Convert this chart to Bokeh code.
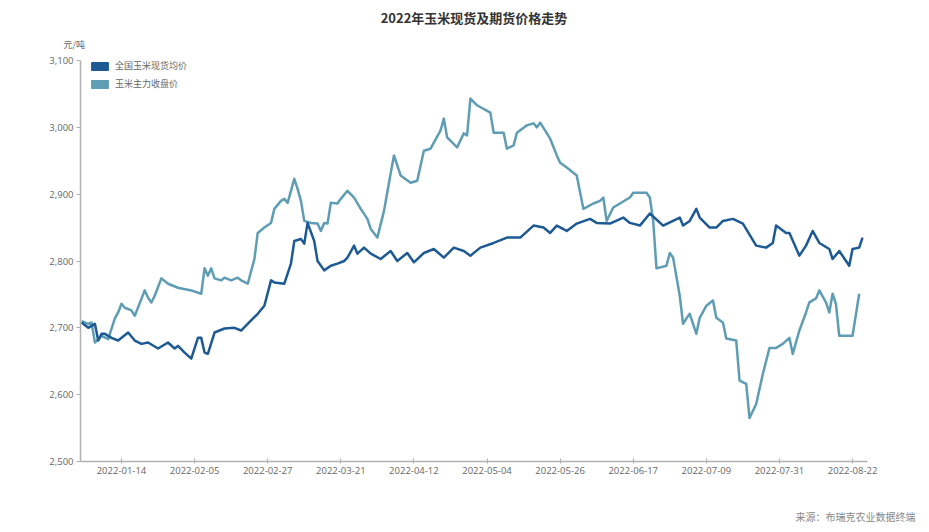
import pandas as pd
from bokeh.plotting import figure
from bokeh.models import (ColumnDataSource, Range1d, FixedTicker, DatetimeTickFormatter,
                          NumeralTickFormatter, Legend, LegendItem, Title)
from bokeh.embed import file_html
from bokeh.resources import INLINE

title_text = "2022年玉米现货及期货价格走势"
unit_text = "元/吨"
source_text = "来源：布瑞克农业数据终端"
spot_name = "全国玉米现货均价"
fut_name = "玉米主力收盘价"

spot_dates = ["2022-01-02", "2022-01-04", "2022-01-06", "2022-01-07", "2022-01-08", "2022-01-09",
              "2022-01-11", "2022-01-13", "2022-01-16", "2022-01-18", "2022-01-20", "2022-01-22",
              "2022-01-25", "2022-01-28", "2022-01-30", "2022-01-31", "2022-02-02", "2022-02-04",
              "2022-02-06", "2022-02-07", "2022-02-08", "2022-02-09", "2022-02-11", "2022-02-14",
              "2022-02-17", "2022-02-19", "2022-02-22", "2022-02-24", "2022-02-26", "2022-02-28",
              "2022-03-01", "2022-03-04", "2022-03-06", "2022-03-07", "2022-03-09", "2022-03-10",
              "2022-03-11", "2022-03-13", "2022-03-14", "2022-03-16", "2022-03-18", "2022-03-20",
              "2022-03-22", "2022-03-23", "2022-03-25", "2022-03-26", "2022-03-28", "2022-03-30",
              "2022-04-02", "2022-04-05", "2022-04-07", "2022-04-10", "2022-04-12", "2022-04-15",
              "2022-04-18", "2022-04-21", "2022-04-24", "2022-04-27", "2022-04-29", "2022-05-02",
              "2022-05-06", "2022-05-10", "2022-05-14", "2022-05-18", "2022-05-21", "2022-05-23",
              "2022-05-25", "2022-05-28", "2022-05-31", "2022-06-04", "2022-06-06", "2022-06-10",
              "2022-06-14", "2022-06-16", "2022-06-19", "2022-06-22", "2022-06-26", "2022-07-01",
              "2022-07-02", "2022-07-04", "2022-07-06", "2022-07-07", "2022-07-10", "2022-07-12",
              "2022-07-14", "2022-07-17", "2022-07-20", "2022-07-24", "2022-07-27", "2022-07-29",
              "2022-07-30", "2022-08-02", "2022-08-03", "2022-08-06", "2022-08-08", "2022-08-10",
              "2022-08-12", "2022-08-15", "2022-08-16", "2022-08-18", "2022-08-21", "2022-08-22",
              "2022-08-24", "2022-08-25"]
spot_values = [2708, 2700, 2706, 2681, 2691, 2691,
               2685, 2681, 2693, 2681, 2676, 2678,
               2669, 2678, 2669, 2673, 2663, 2654,
               2685, 2685, 2663, 2661, 2693, 2699,
               2700, 2696, 2711, 2721, 2733, 2771,
               2768, 2766, 2796, 2830, 2833, 2826,
               2857, 2830, 2800, 2786, 2793, 2796,
               2800, 2805, 2823, 2811, 2820, 2811,
               2803, 2815, 2800, 2812, 2798, 2812,
               2818, 2805, 2820, 2815, 2808, 2820,
               2827, 2835, 2835, 2853, 2850, 2842,
               2853, 2845, 2856, 2863, 2857, 2856,
               2865, 2857, 2853, 2871, 2853, 2865,
               2853, 2860, 2878, 2865, 2850, 2850,
               2860, 2863, 2856, 2823, 2820, 2827,
               2853, 2842, 2842, 2808, 2823, 2845,
               2827, 2818, 2803, 2815, 2793, 2818,
               2820, 2835]

fut_dates = ["2022-01-02", "2022-01-04", "2022-01-05", "2022-01-06", "2022-01-08", "2022-01-10",
             "2022-01-12", "2022-01-13", "2022-01-14", "2022-01-15", "2022-01-17", "2022-01-18",
             "2022-01-21", "2022-01-22", "2022-01-23", "2022-01-24", "2022-01-26", "2022-01-28",
             "2022-01-31", "2022-02-04", "2022-02-07", "2022-02-08", "2022-02-09", "2022-02-10",
             "2022-02-11", "2022-02-13", "2022-02-14", "2022-02-16", "2022-02-18", "2022-02-19",
             "2022-02-21", "2022-02-23", "2022-02-24", "2022-02-26", "2022-02-28", "2022-03-01",
             "2022-03-03", "2022-03-04", "2022-03-05", "2022-03-07", "2022-03-08", "2022-03-09",
             "2022-03-10", "2022-03-12", "2022-03-14", "2022-03-15", "2022-03-16", "2022-03-17",
             "2022-03-18", "2022-03-20", "2022-03-21", "2022-03-23", "2022-03-25", "2022-03-27",
             "2022-03-29", "2022-03-30", "2022-04-01", "2022-04-03", "2022-04-05", "2022-04-06",
             "2022-04-08", "2022-04-11", "2022-04-13", "2022-04-15", "2022-04-17", "2022-04-20",
             "2022-04-21", "2022-04-22", "2022-04-25", "2022-04-27", "2022-04-28", "2022-04-29",
             "2022-05-01", "2022-05-05", "2022-05-06", "2022-05-09", "2022-05-10", "2022-05-12",
             "2022-05-13", "2022-05-16", "2022-05-18", "2022-05-19", "2022-05-20", "2022-05-23",
             "2022-05-25", "2022-05-26", "2022-05-28", "2022-05-31", "2022-06-02", "2022-06-05",
             "2022-06-07", "2022-06-08", "2022-06-09", "2022-06-11", "2022-06-13", "2022-06-16",
             "2022-06-17", "2022-06-21", "2022-06-22", "2022-06-23", "2022-06-24", "2022-06-27",
             "2022-06-28", "2022-06-29", "2022-07-01", "2022-07-02", "2022-07-03", "2022-07-04",
             "2022-07-06", "2022-07-07", "2022-07-09", "2022-07-11", "2022-07-12", "2022-07-14",
             "2022-07-15", "2022-07-18", "2022-07-19", "2022-07-21", "2022-07-22", "2022-07-24",
             "2022-07-26", "2022-07-28", "2022-07-30", "2022-08-01", "2022-08-03", "2022-08-04",
             "2022-08-06", "2022-08-08", "2022-08-09", "2022-08-11", "2022-08-12", "2022-08-14",
             "2022-08-15", "2022-08-16", "2022-08-17", "2022-08-18", "2022-08-22", "2022-08-24"]
fut_values = [2710, 2706, 2708, 2678, 2688, 2683,
              2714, 2723, 2736, 2730, 2726, 2718,
              2756, 2745, 2738, 2748, 2774, 2766,
              2760, 2756, 2751, 2789, 2778, 2789,
              2774, 2771, 2775, 2771, 2775, 2771,
              2766, 2803, 2842, 2850, 2857, 2878,
              2890, 2893, 2887, 2923, 2908, 2890,
              2860, 2857, 2856, 2845, 2857, 2856,
              2887, 2886, 2893, 2905, 2895, 2878,
              2863, 2848, 2835, 2875, 2931, 2958,
              2928, 2917, 2920, 2965, 2968, 2995,
              3013, 2985, 2970, 2991, 2988, 3043,
              3033, 3022, 2992, 2992, 2968, 2973,
              2992, 3003, 3006, 3000, 3007, 2983,
              2958, 2947, 2940, 2928, 2878, 2886,
              2890, 2895, 2860, 2880, 2886, 2895,
              2902, 2902, 2895, 2860, 2789, 2793,
              2812, 2805, 2748, 2706, 2714, 2721,
              2691, 2715, 2733, 2741, 2715, 2708,
              2684, 2681, 2621, 2616, 2565, 2586,
              2631, 2670, 2670, 2676, 2685, 2661,
              2696, 2723, 2738, 2744, 2756, 2738,
              2723, 2751, 2736, 2688, 2688, 2751]

tick_labels = ["2022-01-14", "2022-02-05", "2022-02-27", "2022-03-21", "2022-04-12", "2022-05-04",
               "2022-05-26", "2022-06-17", "2022-07-09", "2022-07-31", "2022-08-22"]
y_ticks = [2500, 2600, 2700, 2800, 2900, 3000, 3100]

SPOT_COLOR = "#1d5a94"
FUT_COLOR = "#5e9db3"
AXIS_COLOR = "#b0b0b0"
TEXT_COLOR = "#666666"

spot_src = ColumnDataSource(dict(x=pd.to_datetime(spot_dates), y=spot_values))
fut_src = ColumnDataSource(dict(x=pd.to_datetime(fut_dates), y=fut_values))

x_start = pd.Timestamp("2022-01-01 16:00")
x_end = pd.Timestamp("2022-08-26 12:00")

p = figure(width=925, height=530, output_backend="svg", toolbar_location=None,
           x_axis_type="datetime",
           x_range=Range1d(x_start, x_end), y_range=Range1d(2500, 3100),
           min_border_left=80, min_border_right=58, min_border_top=60, min_border_bottom=69,
           outline_line_color=None, background_fill_color="white", border_fill_color="white")

p.title.text = title_text
p.title.align = "center"
p.title.text_font = "Noto Sans CJK SC"
p.title.text_font_size = "13px"
p.title.text_font_style = "bold"
p.title.text_color = "#333333"
p.title.standoff = 0

unit_title = Title(text=unit_text, align="left", offset=-17, standoff=19,
                   text_font="Noto Sans CJK SC", text_font_size="9px",
                   text_font_style="normal", text_color=TEXT_COLOR)
p.add_layout(unit_title, "above")

spacer_title = Title(text=" ", align="right", standoff=15, text_font_size="10px",
                     text_font_style="normal")
p.add_layout(spacer_title, "below")

src_title = Title(text=source_text, align="right", offset=-48, standoff=4,
                  text_font="Noto Sans CJK SC", text_font_size="10px",
                  text_font_style="normal", text_color="#888888")
p.add_layout(src_title, "below")

p.xgrid.visible = False
p.ygrid.visible = False

fut_r = p.line("x", "y", source=fut_src, line_color=FUT_COLOR, line_width=2.5, line_join="round")
spot_r = p.line("x", "y", source=spot_src, line_color=SPOT_COLOR, line_width=2.5, line_join="round")

# legend swatches (renderers with no visible data)
nan = float("nan")
sw_spot = p.quad(left=[nan], right=[nan], top=[nan], bottom=[nan],
                 fill_color=SPOT_COLOR, line_color=SPOT_COLOR)
sw_fut = p.quad(left=[nan], right=[nan], top=[nan], bottom=[nan],
                fill_color=FUT_COLOR, line_color=FUT_COLOR)
legend = Legend(items=[LegendItem(label=spot_name, renderers=[sw_spot]),
                       LegendItem(label=fut_name, renderers=[sw_fut])],
                location=(9, 370), margin=0, padding=0, spacing=3,
                glyph_width=21, glyph_height=10, label_height=15, label_standoff=5,
                label_text_font="Noto Sans CJK SC", label_text_font_size="9px",
                label_text_color=TEXT_COLOR, border_line_color=None,
                background_fill_alpha=0)
p.add_layout(legend)

# axes
tick_ms = [pd.Timestamp(t).value / 1e6 for t in tick_labels]
xa = p.xaxis[0]
xa.ticker = FixedTicker(ticks=tick_ms)
xa.formatter = DatetimeTickFormatter(days="%Y-%m-%d", months="%Y-%m-%d", years="%Y-%m-%d",
                                     hours="%Y-%m-%d")
xa.axis_line_color = AXIS_COLOR
xa.axis_line_width = 1.5
xa.major_tick_line_color = AXIS_COLOR
xa.major_tick_in = 3
xa.major_tick_out = 2
xa.minor_tick_line_color = None
xa.major_label_text_font = "Open Sans"
xa.major_label_text_font_size = "9.5px"
xa.major_label_text_color = TEXT_COLOR
xa.major_label_standoff = 3

ya = p.yaxis[0]
ya.ticker = FixedTicker(ticks=y_ticks)
ya.formatter = NumeralTickFormatter(format="0,0")
ya.axis_line_color = AXIS_COLOR
ya.axis_line_width = 1.5
ya.major_tick_line_color = AXIS_COLOR
ya.major_tick_in = 0
ya.major_tick_out = 4
ya.minor_tick_line_color = None
ya.major_label_text_font = "Open Sans"
ya.major_label_text_font_size = "9.5px"
ya.major_label_text_color = TEXT_COLOR
ya.major_label_standoff = 3

html = file_html(p, INLINE)
open("out.html", "w").write(html)
